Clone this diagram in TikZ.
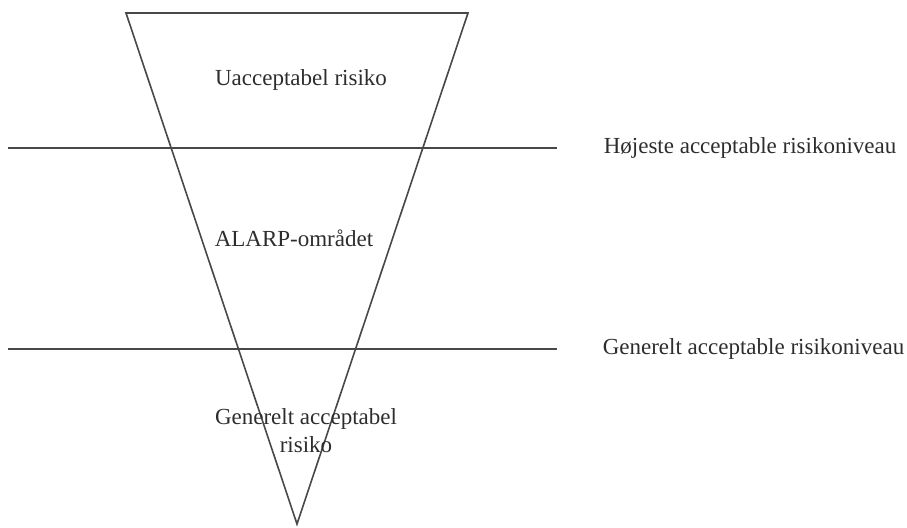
\documentclass[tikz,border=0pt]{standalone}
\usepackage{fontspec}
\setmainfont{Liberation Serif}
\usetikzlibrary{positioning}
\definecolor{linie}{RGB}{72,72,72}
\definecolor{tekst}{RGB}{45,45,45}
\tikzset{
    label/.style={text=tekst, inner sep=0pt, font=\fontsize{11.5}{14}\selectfont},
    niveau/.style={label, anchor=west}
}

\begin{document}
\begin{tikzpicture}[x=0.5pt, y=-0.5pt, linie, line width=0.8pt]

    \useasboundingbox (0,0) rectangle (907,527);

    % trekanten
    \coordinate (TL) at (126,13);
    \coordinate (TR) at (468,13);
    \coordinate (B) at (297,524);
    \draw (TL) -- (TR) -- (B) -- cycle;

    % niveaulinjer
    \coordinate (H1) at (8,148);
    \coordinate (H2) at (557,148);
    \coordinate (G1) at (8,349);
    \coordinate (G2) at (557,349);
    \draw (H1) -- (H2);
    \draw (G1) -- (G2);

    \node[niveau, right=23pt of H2] (hoj) {Højeste acceptable risikoniveau};
    \node[niveau, right=22.5pt of G2] (gen) {Generelt acceptable risikoniveau};

    % omraader
    \node[label] (uacc) at (301,80) {Uacceptabel risiko};
    \node[label] (alarp) at (294,238) {ALARP-området};
    \node[label, align=center] (gacc) at (306,431) {Generelt acceptabel\\risiko};

\end{tikzpicture}
\end{document}
